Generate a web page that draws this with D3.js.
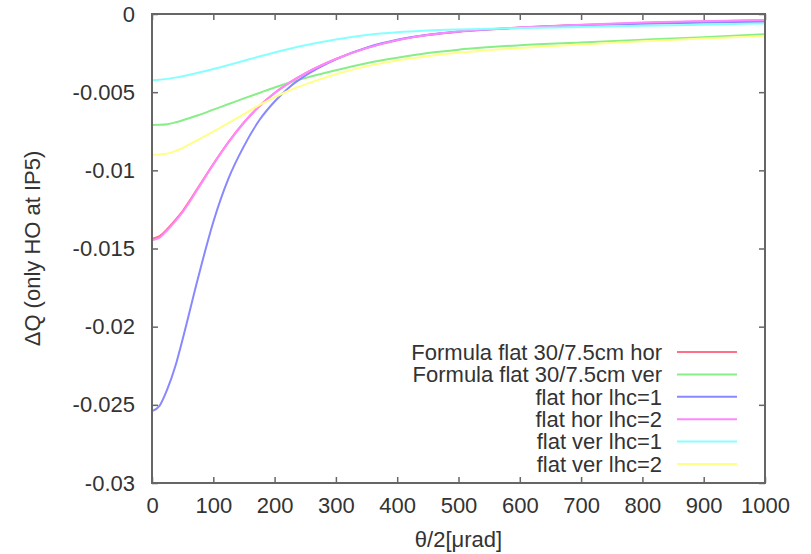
<!DOCTYPE html>
<html>
<head>
<meta charset="utf-8">
<script src="https://cdn.jsdelivr.net/npm/d3@7"></script>
<style>
  html, body { margin: 0; padding: 0; background: #fff; }
  svg text { font-family: "Liberation Sans", Arial, Helvetica, sans-serif; fill: #333; }
</style>
</head>
<body>
<svg id="chart" width="811" height="554"></svg>
<script>
// ---- data ----
const theta = [0, 12.5, 25, 37.5, 50, 75, 100, 125, 150, 175, 200, 225, 250, 300, 350, 400, 450, 500, 600, 700, 800, 900, 1000];

const formulaHor  = [-0.01437, -0.0142, -0.01375, -0.0132, -0.0126, -0.01112, -0.0096, -0.00818, -0.00694, -0.0059, -0.00505, -0.00437, -0.0038, -0.00288, -0.00218, -0.00168, -0.00135, -0.00113, -0.00087, -0.00070, -0.00057, -0.00048, -0.00040];
const formulaVer  = [-0.0071, -0.00709, -0.00705, -0.00694, -0.0068, -0.00648, -0.00612, -0.00576, -0.0054, -0.00505, -0.0047, -0.00438, -0.0041, -0.0036, -0.00315, -0.0028, -0.0025, -0.00228, -0.0020, -0.00182, -0.00165, -0.00148, -0.0013];
const flatHorLhc1 = [-0.0254, -0.02505, -0.0240, -0.0226, -0.0208, -0.0169, -0.0133, -0.0105, -0.00845, -0.0068, -0.0056, -0.00465, -0.00395, -0.0029, -0.00215, -0.00165, -0.00133, -0.00112, -0.00088, -0.00072, -0.00062, -0.00055, -0.00050];
const flatHorLhc2 = [-0.01447, -0.0143, -0.01383, -0.01328, -0.01267, -0.01117, -0.00962, -0.00819, -0.00694, -0.0059, -0.00505, -0.00437, -0.0038, -0.00288, -0.00218, -0.00167, -0.00134, -0.00112, -0.00086, -0.00069, -0.00055, -0.00046, -0.00038];
const flatVerLhc1 = [-0.00423, -0.00421, -0.00415, -0.00407, -0.00398, -0.00376, -0.00352, -0.00326, -0.00299, -0.00272, -0.00246, -0.00222, -0.0020, -0.00163, -0.00135, -0.00117, -0.00106, -0.00099, -0.0009, -0.00083, -0.00075, -0.00068, -0.0006];
const flatVerLhc2 = [-0.0090, -0.00898, -0.00893, -0.00877, -0.00857, -0.00805, -0.00752, -0.00697, -0.0064, -0.00583, -0.00533, -0.00488, -0.0045, -0.00385, -0.00335, -0.00298, -0.0027, -0.00248, -0.00218, -0.00195, -0.00175, -0.00157, -0.0014];

const seriesNames = ["Formula flat 30/7.5cm hor", "Formula flat 30/7.5cm ver", "flat hor lhc=1", "flat hor lhc=2", "flat ver lhc=1", "flat ver lhc=2"];
const seriesValues = [formulaHor, formulaVer, flatHorLhc1, flatHorLhc2, flatVerLhc1, flatVerLhc2];
const seriesColors = ["#ff7088", "#88ee88", "#8888ff", "#ff88ff", "#88ffff", "#ffff88"];

const xTicks = [0, 100, 200, 300, 400, 500, 600, 700, 800, 900, 1000];
const yTicks = [0, -0.005, -0.01, -0.015, -0.02, -0.025, -0.03];
const yTickLabels = ["0", "-0.005", "-0.01", "-0.015", "-0.02", "-0.025", "-0.03"];

// ---- layout ----
const W = 811, H = 554;
const m = { left: 152, right: 46, top: 14, bottom: 71 };
const iw = W - m.left - m.right, ih = H - m.top - m.bottom;

const svg = d3.select("#chart");
const g = svg.append("g").attr("transform", `translate(${m.left},${m.top})`);

const x = d3.scaleLinear().domain([0, 1000]).range([0, iw]);
const y = d3.scaleLinear().domain([-0.03, 0]).range([ih, 0]);

const axisColor = "#666";
const fs = 22;

// curves (clipped to plot area)
g.append("clipPath").attr("id", "clip").append("rect").attr("width", iw).attr("height", ih);
const line = d3.line().x((d, i) => x(theta[i])).y(d => y(d)).curve(d3.curveMonotoneX);
const curves = g.append("g").attr("clip-path", "url(#clip)");
seriesValues.forEach((vals, k) => {
  curves.append("path").datum(vals)
    .attr("d", line)
    .attr("fill", "none")
    .attr("stroke", seriesColors[k])
    .attr("stroke-width", 2);
});

// axes (gnuplot style: inward ticks, mirrored)
const tl = 6;
const xb = d3.axisBottom(x).tickValues(xTicks).tickSizeInner(-tl).tickSizeOuter(0).tickPadding(14).tickFormat(d3.format("d"));
const xt = d3.axisTop(x).tickValues(xTicks).tickSizeInner(-tl).tickSizeOuter(0).tickFormat("");
const yl = d3.axisLeft(y).tickValues(yTicks).tickSizeInner(-tl).tickSizeOuter(0).tickPadding(17).tickFormat((d, i) => yTickLabels[i]);
const yr = d3.axisRight(y).tickValues(yTicks).tickSizeInner(-tl).tickSizeOuter(0).tickFormat("");

function styleAxis(sel) {
  sel.select(".domain").remove();
  sel.selectAll(".tick line").attr("stroke", axisColor).attr("stroke-width", 1.5);
  sel.selectAll(".tick text").attr("font-size", fs).attr("fill", "#333")
     .style("font-family", "'Liberation Sans', Arial, sans-serif");
}
g.append("g").attr("transform", `translate(0,${ih})`).call(xb).call(styleAxis);
g.append("g").call(xt).call(styleAxis);
g.append("g").call(yl).call(styleAxis);
g.append("g").attr("transform", `translate(${iw},0)`).call(yr).call(styleAxis);

// frame
g.append("rect").attr("width", iw).attr("height", ih)
  .attr("fill", "none").attr("stroke", axisColor).attr("stroke-width", 2);

// axis labels
svg.append("text").attr("x", m.left + iw / 2).attr("y", 547)
  .attr("text-anchor", "middle").attr("font-size", fs).text("θ/2[μrad]");
svg.append("text").attr("transform", `translate(40,${m.top + ih / 2}) rotate(-90)`)
  .attr("text-anchor", "middle").attr("font-size", fs).text("ΔQ (only HO at IP5)");

// legend
const legY0 = 352, legDy = 22.4;
const leg = svg.append("g");
seriesNames.forEach((name, k) => {
  const yy = legY0 + k * legDy;
  leg.append("text").attr("x", 662).attr("y", yy).attr("dy", "0.35em")
    .attr("text-anchor", "end").attr("font-size", fs).text(name);
  leg.append("line").attr("x1", 677).attr("x2", 737).attr("y1", yy).attr("y2", yy)
    .attr("stroke", seriesColors[k]).attr("stroke-width", 2);
});
</script>
</body>
</html>
